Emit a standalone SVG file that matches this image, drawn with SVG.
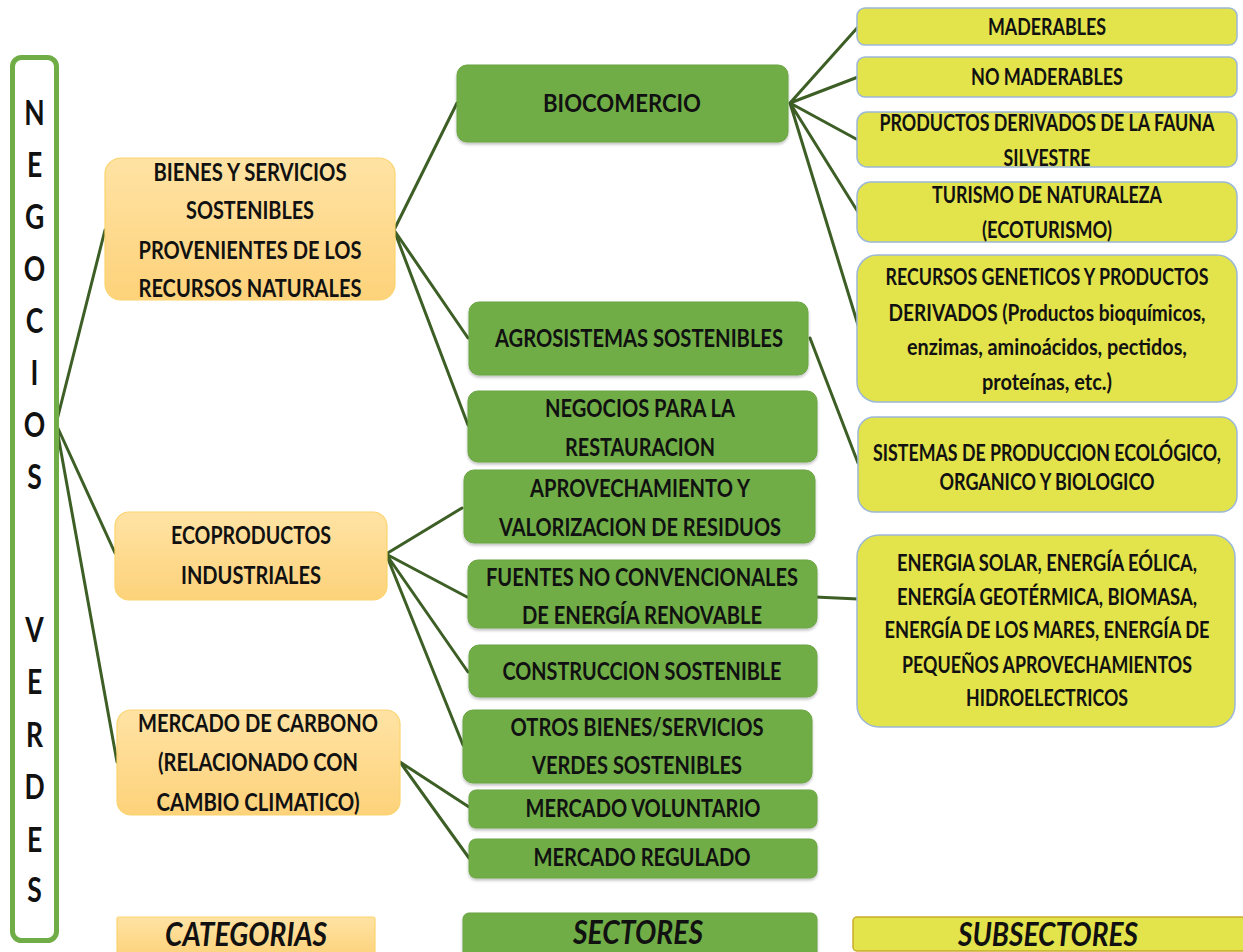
<svg xmlns="http://www.w3.org/2000/svg" width="1243" height="952" viewBox="0 0 1243 952">
<defs>
<linearGradient id="og" x1="0" y1="0" x2="0" y2="1">
<stop offset="0" stop-color="#ffe3a4"/>
<stop offset="1" stop-color="#fdd27a"/>
</linearGradient>
<filter id="sh" x="-5%" y="-10%" width="110%" height="130%">
<feGaussianBlur in="SourceAlpha" stdDeviation="1.5"/>
<feOffset dx="0" dy="1.5" result="b"/>
<feComponentTransfer><feFuncA type="linear" slope="0.25"/></feComponentTransfer>
<feMerge><feMergeNode/><feMergeNode in="SourceGraphic"/></feMerge>
</filter>
</defs>
<style>
.t{font-family:Lato,"Open Sans","Liberation Sans",sans-serif;font-weight:bold;fill:#111;text-anchor:middle;font-size:25px}
.s{font-size:23px}
.it{font-style:italic;font-size:32px}
.cat{fill:url(#og);stroke:#fbd46e;stroke-width:1.2}
.sec{fill:#70ad47;stroke:#6aa542;stroke-width:1;filter:url(#sh)}
.sub{fill:#e3e34b;stroke:#9cb8d8;stroke-width:1.5}
.c{stroke:#3d5f26;stroke-width:3;fill:none;stroke-linecap:round}
.fr{font-family:Lato,"Open Sans","Liberation Sans",sans-serif;font-weight:bold;fill:#111;text-anchor:middle;font-size:34px}
</style>
<rect width="1243" height="952" fill="#ffffff"/>

<g id="connectors">
<path class="c" d="M56 424 L105 230 M56 424 L115 553 M56 424 L117 762"/>
<path class="c" d="M394 230 L457 103 M394 230 L468 338 M394 230 L468 425"/>
<path class="c" d="M790 103 L858 27 M790 103 L858 77 M790 103 L858 140 M790 103 L858 212 M790 103 L858 325"/>
<path class="c" d="M810 338 L858 463"/>
<path class="c" d="M386 554 L462 508 M386 554 L467 597 M386 554 L468 672 M386 554 L463 745"/>
<path class="c" d="M400 762 L469 807 M400 762 L469 858"/>
<path class="c" d="M815 597 L858 599"/>
</g>

<g id="negocios-verdes">
<rect x="12.5" y="57.5" width="44" height="883" rx="9" fill="#ffffff" stroke="#70ad47" stroke-width="5"/>
<g transform="translate(34.5,0) scale(0.78,1)">
<text class="fr" x="0" y="125">N</text>
<text class="fr" x="0" y="177">E</text>
<text class="fr" x="0" y="229">G</text>
<text class="fr" x="0" y="281">O</text>
<text class="fr" x="0" y="333">C</text>
<text class="fr" x="0" y="385">I</text>
<text class="fr" x="0" y="437">O</text>
<text class="fr" x="0" y="489">S</text>
<text class="fr" x="0" y="642">V</text>
<text class="fr" x="0" y="694">E</text>
<text class="fr" x="0" y="747">R</text>
<text class="fr" x="0" y="799">D</text>
<text class="fr" x="0" y="852">E</text>
<text class="fr" x="0" y="902">S</text>
</g>
</g>

<g id="cat-bienes">
<rect class="cat" x="105" y="158" width="290" height="142" rx="16"/>
<text class="t" x="250" y="181" textLength="193" lengthAdjust="spacingAndGlyphs">BIENES Y SERVICIOS</text>
<text class="t" x="250" y="219" textLength="128" lengthAdjust="spacingAndGlyphs">SOSTENIBLES</text>
<text class="t" x="250" y="259" textLength="223" lengthAdjust="spacingAndGlyphs">PROVENIENTES DE LOS</text>
<text class="t" x="250" y="297" textLength="223" lengthAdjust="spacingAndGlyphs">RECURSOS NATURALES</text>
</g>
<g id="cat-eco">
<rect class="cat" x="115" y="512" width="272" height="88" rx="14"/>
<text class="t" x="251" y="544" textLength="160" lengthAdjust="spacingAndGlyphs">ECOPRODUCTOS</text>
<text class="t" x="251" y="584" textLength="140" lengthAdjust="spacingAndGlyphs">INDUSTRIALES</text>
</g>
<g id="cat-carbono">
<rect class="cat" x="117" y="710" width="283" height="105" rx="14"/>
<text class="t" x="258" y="732" textLength="240" lengthAdjust="spacingAndGlyphs">MERCADO DE CARBONO</text>
<text class="t" x="258" y="771" textLength="200" lengthAdjust="spacingAndGlyphs">(RELACIONADO CON</text>
<text class="t" x="258" y="811" textLength="203" lengthAdjust="spacingAndGlyphs">CAMBIO CLIMATICO)</text>
</g>
<g id="legend-categorias">
<rect class="cat" x="117" y="917" width="258" height="40" rx="2"/>
<text class="t it" x="246" y="946" textLength="162" lengthAdjust="spacingAndGlyphs">CATEGORIAS</text>
</g>

<g id="sec-biocomercio">
<rect class="sec" x="457" y="65" width="331" height="77" rx="10"/>
<text class="t" x="622" y="112" textLength="158" lengthAdjust="spacingAndGlyphs">BIOCOMERCIO</text>
</g>
<g id="sec-agro">
<rect class="sec" x="469" y="302" width="339" height="73" rx="10"/>
<text class="t" x="639" y="347" textLength="288" lengthAdjust="spacingAndGlyphs">AGROSISTEMAS SOSTENIBLES</text>
</g>
<g id="sec-restauracion">
<rect class="sec" x="468" y="391" width="349" height="71" rx="10"/>
<text class="t" x="640" y="417" textLength="190" lengthAdjust="spacingAndGlyphs">NEGOCIOS PARA LA</text>
<text class="t" x="640" y="456" textLength="150" lengthAdjust="spacingAndGlyphs">RESTAURACION</text>
</g>
<g id="sec-residuos">
<rect class="sec" x="464" y="470" width="351" height="73" rx="10"/>
<text class="t" x="640" y="497" textLength="220" lengthAdjust="spacingAndGlyphs">APROVECHAMIENTO Y</text>
<text class="t" x="640" y="536" textLength="282" lengthAdjust="spacingAndGlyphs">VALORIZACION DE RESIDUOS</text>
</g>
<g id="sec-energia">
<rect class="sec" x="468" y="560" width="349" height="68" rx="10"/>
<text class="t" x="642" y="586" textLength="312" lengthAdjust="spacingAndGlyphs">FUENTES NO CONVENCIONALES</text>
<text class="t" x="642" y="624" textLength="240" lengthAdjust="spacingAndGlyphs">DE ENERGÍA RENOVABLE</text>
</g>
<g id="sec-construccion">
<rect class="sec" x="469" y="645" width="348" height="52" rx="10"/>
<text class="t" x="642" y="680" textLength="279" lengthAdjust="spacingAndGlyphs">CONSTRUCCION SOSTENIBLE</text>
</g>
<g id="sec-otros">
<rect class="sec" x="463" y="710" width="349" height="73" rx="10"/>
<text class="t" x="637" y="736" textLength="253" lengthAdjust="spacingAndGlyphs">OTROS BIENES/SERVICIOS</text>
<text class="t" x="637" y="774" textLength="210" lengthAdjust="spacingAndGlyphs">VERDES SOSTENIBLES</text>
</g>
<g id="sec-voluntario">
<rect class="sec" x="469" y="790" width="348" height="38" rx="7"/>
<text class="t" x="643" y="817" textLength="235" lengthAdjust="spacingAndGlyphs">MERCADO VOLUNTARIO</text>
</g>
<g id="sec-regulado">
<rect class="sec" x="469" y="839" width="348" height="39" rx="7"/>
<text class="t" x="642" y="866" textLength="217" lengthAdjust="spacingAndGlyphs">MERCADO REGULADO</text>
</g>
<g id="legend-sectores">
<rect class="sec" x="463" y="913" width="354" height="45" rx="6"/>
<text class="t it" x="638" y="944" textLength="130" lengthAdjust="spacingAndGlyphs">SECTORES</text>
</g>

<g id="sub-maderables">
<rect class="sub" x="857" y="8" width="380" height="37" rx="8"/>
<text class="t s" x="1047" y="35" textLength="118" lengthAdjust="spacingAndGlyphs">MADERABLES</text>
</g>
<g id="sub-no-maderables">
<rect class="sub" x="857" y="57" width="380" height="40" rx="8"/>
<text class="t s" x="1047" y="85" textLength="152" lengthAdjust="spacingAndGlyphs">NO MADERABLES</text>
</g>
<g id="sub-fauna">
<rect class="sub" x="857" y="112" width="380" height="55" rx="10"/>
<text class="t s" x="1047" y="131" textLength="335" lengthAdjust="spacingAndGlyphs">PRODUCTOS DERIVADOS DE LA FAUNA</text>
<text class="t s" x="1047" y="166" textLength="87" lengthAdjust="spacingAndGlyphs">SILVESTRE</text>
</g>
<g id="sub-turismo">
<rect class="sub" x="857" y="182" width="380" height="60" rx="14"/>
<text class="t s" x="1047" y="203" textLength="230" lengthAdjust="spacingAndGlyphs">TURISMO DE NATURALEZA</text>
<text class="t s" x="1047" y="238" textLength="130" lengthAdjust="spacingAndGlyphs">(ECOTURISMO)</text>
</g>
<g id="sub-geneticos">
<rect class="sub" x="857" y="255" width="380" height="147" rx="20"/>
<text class="t s" x="1047" y="285" textLength="323" lengthAdjust="spacingAndGlyphs">RECURSOS GENETICOS Y PRODUCTOS</text>
<text class="t s" x="1047" y="321" textLength="317" lengthAdjust="spacingAndGlyphs">DERIVADOS (Productos bioquímicos,</text>
<text class="t s" x="1047" y="355" textLength="280" lengthAdjust="spacingAndGlyphs">enzimas, aminoácidos, pectidos,</text>
<text class="t s" x="1047" y="390" textLength="130" lengthAdjust="spacingAndGlyphs">proteínas, etc.)</text>
</g>
<g id="sub-sistemas">
<rect class="sub" x="858" y="417" width="379" height="95" rx="16"/>
<text class="t s" x="1047" y="461" textLength="348" lengthAdjust="spacingAndGlyphs">SISTEMAS DE PRODUCCION ECOLÓGICO,</text>
<text class="t s" x="1047" y="490" textLength="215" lengthAdjust="spacingAndGlyphs">ORGANICO Y BIOLOGICO</text>
</g>
<g id="sub-energias">
<rect class="sub" x="857" y="535" width="378" height="192" rx="22"/>
<text class="t s" x="1047" y="571" textLength="300" lengthAdjust="spacingAndGlyphs">ENERGIA SOLAR, ENERGÍA EÓLICA,</text>
<text class="t s" x="1047" y="605" textLength="300" lengthAdjust="spacingAndGlyphs">ENERGÍA GEOTÉRMICA, BIOMASA,</text>
<text class="t s" x="1047" y="638" textLength="325" lengthAdjust="spacingAndGlyphs">ENERGÍA DE LOS MARES, ENERGÍA DE</text>
<text class="t s" x="1047" y="673" textLength="290" lengthAdjust="spacingAndGlyphs">PEQUEÑOS APROVECHAMIENTOS</text>
<text class="t s" x="1047" y="706" textLength="162" lengthAdjust="spacingAndGlyphs">HIDROELECTRICOS</text>
</g>
<g id="legend-subsectores">
<rect x="853" y="917" width="400" height="34" rx="4" fill="#e3e34b" stroke="#c9ac2c" stroke-width="1.5"/>
<text class="t it" x="1048" y="946" textLength="180" lengthAdjust="spacingAndGlyphs">SUBSECTORES</text>
</g>
</svg>
